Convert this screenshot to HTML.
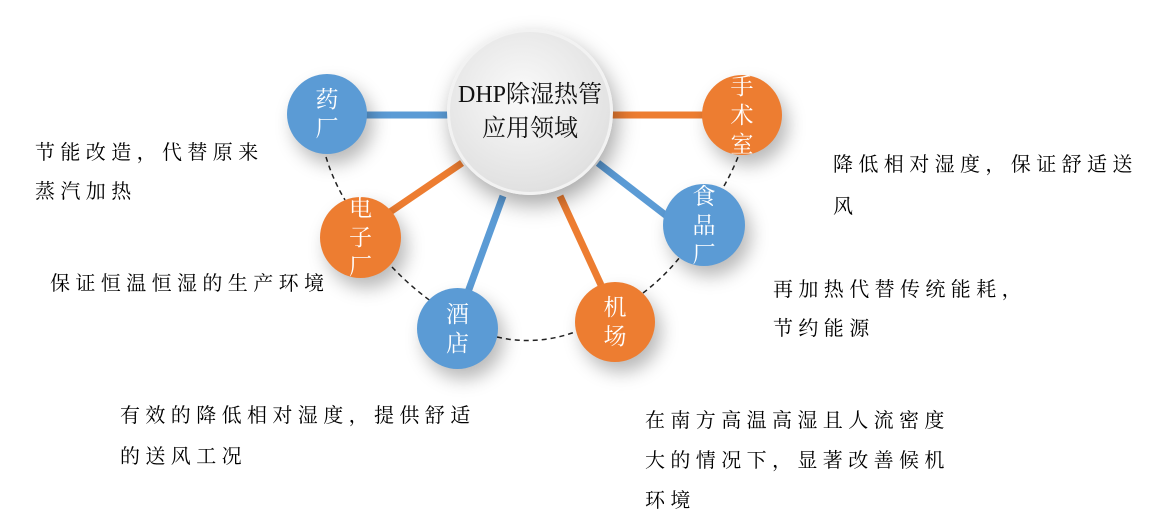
<!DOCTYPE html>
<html><head><meta charset="utf-8"><style>
body{margin:0;width:1156px;height:531px;background:#fff;position:relative;overflow:hidden;font-family:"Liberation Serif","Noto Serif CJK SC",serif;}
.t{position:absolute;font-size:20px;letter-spacing:5.4px;color:#000;line-height:39px;white-space:nowrap;}
.c{position:absolute;border-radius:50%;color:#fff;font-size:23px;display:flex;flex-direction:column;align-items:center;justify-content:center;line-height:29px;box-shadow:6px 10px 18px rgba(0,0,0,0.28);}
.b{background:#5b9bd5;}.o{background:#ed7d31;}
</style></head><body>
<svg width="1156" height="531" style="position:absolute;left:0;top:0">
<g stroke="#222" stroke-width="1.5" stroke-dasharray="5,4" fill="none">
<path d="M326 157 Q333 180 345 200"/>
<path d="M392 267 Q410 286 432 302"/>
<path d="M497 337 Q536 346 575 332"/>
<path d="M643 293 Q664 277 680 257"/>
<path d="M724 186 Q732 172 738 157"/>
</g>
<g stroke-width="7">
<line x1="360" y1="115" x2="455" y2="115" stroke="#5b9bd5"/>
<line x1="605" y1="115" x2="710" y2="115" stroke="#ed7d31"/>
<line x1="390" y1="212" x2="462" y2="163" stroke="#ed7d31"/>
<line x1="468" y1="292" x2="503" y2="196" stroke="#5b9bd5"/>
<line x1="601" y1="285" x2="560" y2="196" stroke="#ed7d31"/>
<line x1="668" y1="217" x2="598" y2="163" stroke="#5b9bd5"/>
</g>
</svg>
<div class="c" style="left:447px;top:29px;width:166px;height:166px;background:radial-gradient(circle at 45% 40%,#fafafa,#e2e2e2 70%,#d4d4d4);color:#111;font-size:24px;line-height:34px;box-shadow:4px 10px 22px rgba(0,0,0,0.35);border:3px solid #f2f2f2;box-sizing:border-box;"><div>DHP除湿热管</div><div>应用领域</div></div>
<div class="c b" style="left:287px;top:74px;width:80px;height:80px;"><div>药</div><div>厂</div></div>
<div class="c o" style="left:702px;top:75px;width:80px;height:80px;"><div>手</div><div>术</div><div>室</div></div>
<div class="c o" style="left:320px;top:197px;width:81px;height:81px;"><div>电</div><div>子</div><div>厂</div></div>
<div class="c b" style="left:663px;top:184px;width:82px;height:82px;"><div>食</div><div>品</div><div>厂</div></div>
<div class="c b" style="left:417px;top:288px;width:81px;height:81px;"><div>酒</div><div>店</div></div>
<div class="c o" style="left:575px;top:282px;width:80px;height:80px;"><div>机</div><div>场</div></div>
<div class="t" style="left:35px;top:134px;">节能改造，代替原来<br>蒸汽加热</div>
<div class="t" style="left:50px;top:265px;">保证恒温恒湿的生产环境</div>
<div class="t" style="left:120px;top:396px;line-height:41px;">有效的降低相对湿度，提供舒适<br>的送风工况</div>
<div class="t" style="left:645px;top:401px;line-height:40px;">在南方高温高湿且人流密度<br>大的情况下，显著改善候机<br>环境</div>
<div class="t" style="left:833px;top:144px;line-height:42px;">降低相对湿度，保证舒适送<br>风</div>
<div class="t" style="left:773px;top:271px;">再加热代替传统能耗，<br>节约能源</div>
</body></html>
